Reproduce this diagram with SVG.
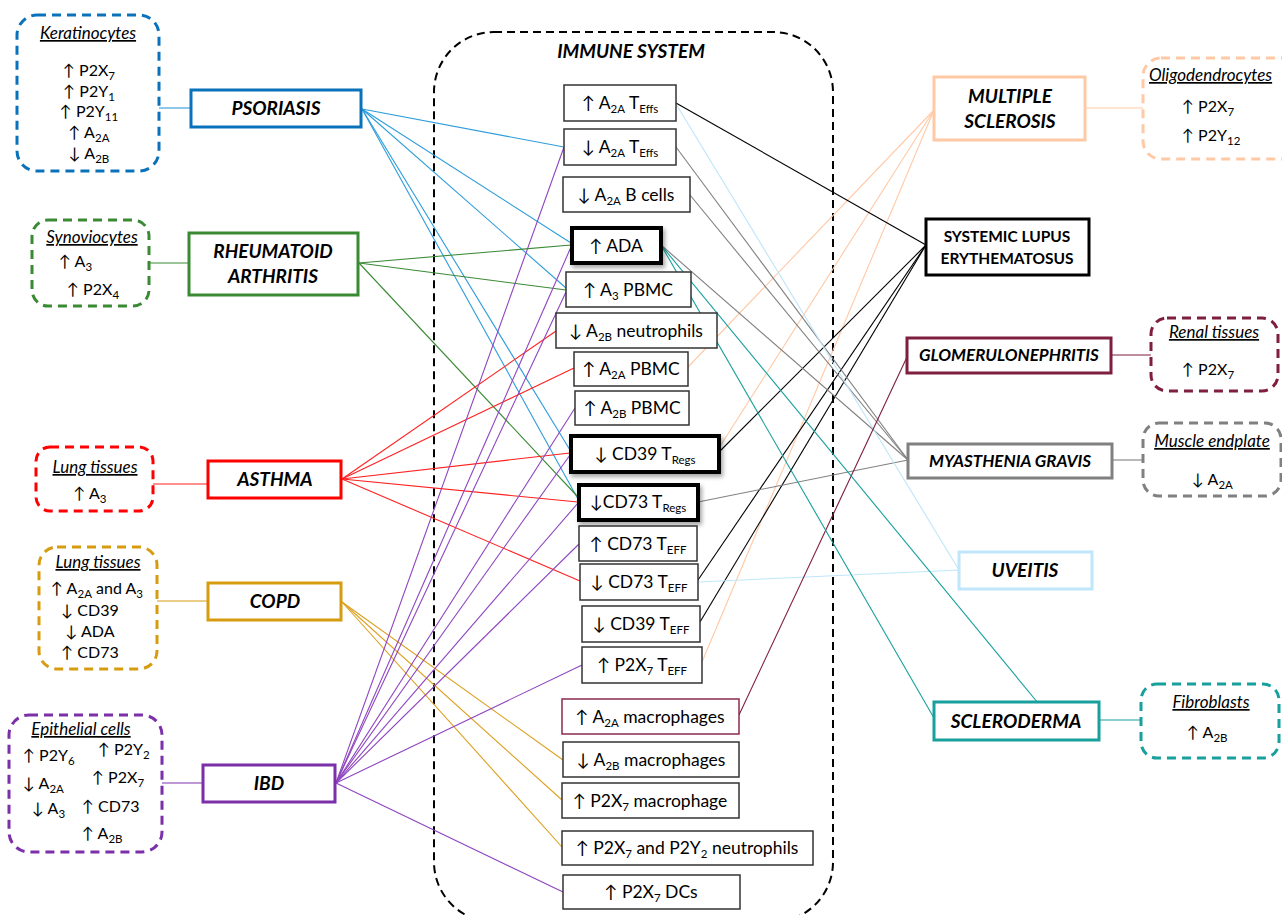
<svg xmlns="http://www.w3.org/2000/svg" width="1282" height="915" viewBox="0 0 1282 915">
<defs>
<filter id="sh" x="-20%" y="-20%" width="150%" height="160%">
<feDropShadow dx="2" dy="3" stdDeviation="2" flood-color="#000" flood-opacity="0.35"/>
</filter>
<style>
text{font-family:Lato,"Open Sans","DejaVu Sans",sans-serif;fill:#000}
.c{font-size:17.5px;text-anchor:middle}
.t{font-size:16px}
.ti{font-size:17px;font-style:italic;text-decoration:underline}
.d{font-size:19px;font-weight:bold;font-style:italic;text-anchor:middle}
.sb{font-size:11.5px}
.box{fill:#fff;stroke:#333;stroke-width:1.5}
.bold{fill:#fff;stroke:#000;stroke-width:4}
.dis{fill:#fff;stroke-width:3}
.tis{fill:#fff;stroke-width:3;stroke-dasharray:9 6}
.cn line{stroke-width:1.1;fill:none}
</style>
</defs>
<rect width="1282" height="915" fill="#fff"/>

<!-- Immune system container -->
<g id="immune-system">
<rect x="434" y="32" width="399" height="890" rx="60" fill="none" stroke="#000" stroke-width="2" stroke-dasharray="8 5"/>
<text x="631" y="58" style="font-size:19px;font-weight:bold;font-style:italic;text-anchor:middle">IMMUNE SYSTEM</text>
</g>

<!-- Connectors -->
<g id="connectors" class="cn">
<!-- tissue to disease -->
<line x1="159" y1="108" x2="191" y2="108" stroke="#2D9CDB"/>
<line x1="149" y1="263" x2="189" y2="263" stroke="#3A8A34"/>
<line x1="153" y1="484" x2="208" y2="484" stroke="#FF2020"/>
<line x1="157" y1="601" x2="208" y2="601" stroke="#D99B12"/>
<line x1="162" y1="783" x2="202" y2="783" stroke="#7E30B0"/>
<line x1="1085" y1="108" x2="1143" y2="108" stroke="#FFC9A6"/>
<line x1="1111" y1="355" x2="1151" y2="355" stroke="#7E1E40" stroke-width="1.6"/>
<line x1="1112" y1="460" x2="1143" y2="460" stroke="#808080"/>
<line x1="1099" y1="720" x2="1141" y2="720" stroke="#17A09C"/>
<!-- psoriasis -->
<g stroke="#2D9CDB">
<line x1="362" y1="109" x2="564" y2="147"/>
<line x1="362" y1="109" x2="571" y2="243"/>
<line x1="362" y1="109" x2="566" y2="288"/>
<line x1="362" y1="109" x2="570" y2="450"/>
<line x1="362" y1="109" x2="578" y2="499"/>
</g>
<!-- RA -->
<g stroke="#3A8A34">
<line x1="359" y1="263" x2="571" y2="245"/>
<line x1="359" y1="263" x2="566" y2="290"/>
<line x1="359" y1="263" x2="578" y2="497"/>
</g>
<!-- asthma -->
<g stroke="#FF2020">
<line x1="342" y1="479" x2="556" y2="331"/>
<line x1="342" y1="479" x2="574" y2="368"/>
<line x1="342" y1="479" x2="570" y2="453"/>
<line x1="342" y1="479" x2="578" y2="502"/>
<line x1="342" y1="479" x2="580" y2="581"/>
</g>
<!-- COPD -->
<g stroke="#DDA020">
<line x1="342" y1="602" x2="563" y2="760"/>
<line x1="342" y1="602" x2="562" y2="800"/>
<line x1="342" y1="602" x2="562" y2="847"/>
</g>
<!-- IBD -->
<g stroke="#8E44C0">
<line x1="336" y1="783" x2="564" y2="147"/>
<line x1="336" y1="783" x2="571" y2="247"/>
<line x1="336" y1="783" x2="566" y2="292"/>
<line x1="336" y1="783" x2="575" y2="408"/>
<line x1="336" y1="783" x2="570" y2="455"/>
<line x1="336" y1="783" x2="578" y2="503"/>
<line x1="336" y1="783" x2="579" y2="544"/>
<line x1="336" y1="783" x2="582" y2="665"/>
<line x1="336" y1="783" x2="563" y2="892"/>
</g>
<!-- multiple sclerosis -->
<g stroke="#FFC9A6">
<line x1="934" y1="110" x2="688" y2="367"/>
<line x1="934" y1="110" x2="719" y2="448"/>
<line x1="934" y1="110" x2="702" y2="662"/>
</g>
<!-- SLE -->
<g stroke="#000">
<line x1="926" y1="245" x2="676" y2="103"/>
<line x1="926" y1="245" x2="719" y2="452"/>
<line x1="926" y1="245" x2="698" y2="580"/>
<line x1="926" y1="245" x2="700" y2="622"/>
</g>
<!-- myasthenia gravis -->
<g stroke="#808080">
<line x1="908" y1="460" x2="676" y2="147"/>
<line x1="908" y1="460" x2="690" y2="195"/>
<line x1="908" y1="460" x2="661" y2="245"/>
<line x1="908" y1="460" x2="698" y2="502"/>
</g>
<!-- uveitis -->
<g stroke="#BFE6FA">
<line x1="959" y1="570" x2="676" y2="104"/>
<line x1="959" y1="570" x2="698" y2="582"/>
</g>
<!-- glomerulonephritis -->
<line x1="907" y1="357" x2="739" y2="715" stroke="#7E1E40"/>
<!-- scleroderma -->
<g stroke="#17A09C">
<line x1="661" y1="245" x2="1038" y2="703"/>
<line x1="661" y1="245" x2="934" y2="718"/>
</g>
</g>

<!-- Center immune nodes -->
<g id="n-a2a-teffs-up"><rect class="box" x="564" y="85" width="112" height="36"/>
<text class="c" x="620" y="109">↑ A<tspan class="sb" dy="4">2A</tspan><tspan dy="-4"> T</tspan><tspan class="sb" dy="4">Effs</tspan></text></g>
<g id="n-a2a-teffs-down"><rect class="box" x="564" y="129" width="112" height="36"/>
<text class="c" x="620" y="153">↓ A<tspan class="sb" dy="4">2A</tspan><tspan dy="-4"> T</tspan><tspan class="sb" dy="4">Effs</tspan></text></g>
<g id="n-a2a-bcells"><rect class="box" x="563" y="177" width="127" height="35"/>
<text class="c" x="626" y="201">↓ A<tspan class="sb" dy="4">2A</tspan><tspan dy="-4"> B cells</tspan></text></g>
<g id="n-ada"><rect class="bold" x="572" y="228" width="89" height="35" filter="url(#sh)"/>
<text class="c" x="616" y="252">↑ ADA</text></g>
<g id="n-a3-pbmc"><rect class="box" x="566" y="272" width="125" height="35"/>
<text class="c" x="628" y="296">↑ A<tspan class="sb" dy="4">3</tspan><tspan dy="-4"> PBMC</tspan></text></g>
<g id="n-a2b-neutro"><rect class="box" x="556" y="313" width="161" height="35"/>
<text class="c" x="636" y="337">↓ A<tspan class="sb" dy="4">2B</tspan><tspan dy="-4">  neutrophils</tspan></text></g>
<g id="n-a2a-pbmc"><rect class="box" x="574" y="352" width="114" height="34"/>
<text class="c" x="631" y="375">↑ A<tspan class="sb" dy="4">2A</tspan><tspan dy="-4"> PBMC</tspan></text></g>
<g id="n-a2b-pbmc"><rect class="box" x="575" y="391" width="114" height="34"/>
<text class="c" x="632" y="414">↑ A<tspan class="sb" dy="4">2B</tspan><tspan dy="-4"> PBMC</tspan></text></g>
<g id="n-cd39-tregs"><rect class="bold" x="571" y="436" width="148" height="36" filter="url(#sh)"/>
<text class="c" x="645" y="460">↓ CD39 T<tspan class="sb" dy="4">Regs</tspan></text></g>
<g id="n-cd73-tregs"><rect class="bold" x="579" y="485" width="119" height="35" filter="url(#sh)"/>
<text class="c" x="638" y="508">↓CD73 T<tspan class="sb" dy="4">Regs</tspan></text></g>
<g id="n-cd73-teff-up"><rect class="box" x="579" y="526" width="118" height="35"/>
<text class="c" x="638" y="550">↑ CD73 T<tspan class="sb" dy="4">EFF</tspan></text></g>
<g id="n-cd73-teff-down"><rect class="box" x="580" y="564" width="118" height="36"/>
<text class="c" x="639" y="588">↓ CD73 T<tspan class="sb" dy="4">EFF</tspan></text></g>
<g id="n-cd39-teff"><rect class="box" x="582" y="606" width="118" height="36"/>
<text class="c" x="641" y="630">↓ CD39 T<tspan class="sb" dy="4">EFF</tspan></text></g>
<g id="n-p2x7-teff"><rect class="box" x="582" y="647" width="120" height="36"/>
<text class="c" x="642" y="671">↑ P2X<tspan class="sb" dy="4">7</tspan><tspan dy="-4"> T</tspan><tspan class="sb" dy="4">EFF</tspan></text></g>
<g id="n-a2a-macro"><rect class="box" x="562" y="699" width="177" height="35" style="stroke:#8A2A50"/>
<text class="c" x="650" y="723">↑ A<tspan class="sb" dy="4">2A</tspan><tspan dy="-4"> macrophages</tspan></text></g>
<g id="n-a2b-macro"><rect class="box" x="563" y="742" width="176" height="35"/>
<text class="c" x="651" y="766">↓ A<tspan class="sb" dy="4">2B</tspan><tspan dy="-4"> macrophages</tspan></text></g>
<g id="n-p2x7-macro"><rect class="box" x="562" y="783" width="177" height="35"/>
<text class="c" x="650" y="807">↑ P2X<tspan class="sb" dy="4">7</tspan><tspan dy="-4"> macrophage</tspan></text></g>
<g id="n-p2x7-p2y2-neutro"><rect class="box" x="562" y="831" width="251" height="34"/>
<text class="c" x="687" y="854">↑ P2X<tspan class="sb" dy="4">7</tspan><tspan dy="-4"> and P2Y</tspan><tspan class="sb" dy="4">2</tspan><tspan dy="-4"> neutrophils</tspan></text></g>
<g id="n-p2x7-dcs"><rect class="box" x="563" y="875" width="177" height="34"/>
<text class="c" x="651" y="898">↑ P2X<tspan class="sb" dy="4">7</tspan><tspan dy="-4"> DCs</tspan></text></g>

<!-- Left diseases -->
<g id="psoriasis"><rect class="dis" x="191" y="90" width="170" height="37" stroke="#0A72BA"/>
<text class="d" x="276" y="115">PSORIASIS</text></g>
<g id="rheumatoid-arthritis"><rect class="dis" x="189" y="233" width="169" height="62" stroke="#3A8A34"/>
<text class="d" x="273" y="258">RHEUMATOID</text><text class="d" x="273" y="283">ARTHRITIS</text></g>
<g id="asthma"><rect class="dis" x="208" y="461" width="133" height="37" stroke="#FF0000"/>
<text class="d" x="275" y="486">ASTHMA</text></g>
<g id="copd"><rect class="dis" x="208" y="583" width="133" height="37" stroke="#D79B0F"/>
<text class="d" x="275" y="608">COPD</text></g>
<g id="ibd"><rect class="dis" x="203" y="765" width="132" height="37" stroke="#7B2FA8"/>
<text class="d" x="269" y="790">IBD</text></g>

<!-- Left tissues -->
<g id="keratinocytes"><rect class="tis" x="17" y="15" width="142" height="156" rx="20" stroke="#0A72BA"/>
<text class="ti" x="88" y="39" text-anchor="middle">Keratinocytes</text>
<text class="t" x="89" y="76" text-anchor="middle">↑ P2X<tspan class="sb" dy="4">7</tspan></text>
<text class="t" x="89" y="97" text-anchor="middle">↑ P2Y<tspan class="sb" dy="4">1</tspan></text>
<text class="t" x="89" y="117" text-anchor="middle">↑ P2Y<tspan class="sb" dy="4">11</tspan></text>
<text class="t" x="89" y="138" text-anchor="middle">↑ A<tspan class="sb" dy="4">2A</tspan></text>
<text class="t" x="89" y="159" text-anchor="middle">↓ A<tspan class="sb" dy="4">2B</tspan></text></g>
<g id="synoviocytes"><rect class="tis" x="32" y="220" width="117" height="86" rx="16" stroke="#3A8A34"/>
<text class="ti" x="92" y="243" text-anchor="middle">Synoviocytes</text>
<text class="t" x="59" y="267">↑ A<tspan class="sb" dy="4">3</tspan></text>
<text class="t" x="67" y="295">↑ P2X<tspan class="sb" dy="4">4</tspan></text></g>
<g id="lung-tissues-asthma"><rect class="tis" x="36" y="447" width="117" height="64" rx="14" stroke="#FF0000"/>
<text class="ti" x="95" y="473" text-anchor="middle">Lung tissues</text>
<text class="t" x="90" y="499" text-anchor="middle">↑ A<tspan class="sb" dy="4">3</tspan></text></g>
<g id="lung-tissues-copd"><rect class="tis" x="39" y="547" width="118" height="122" rx="18" stroke="#D79B0F"/>
<text class="ti" x="98" y="568" text-anchor="middle">Lung tissues</text>
<text class="t" x="97" y="594" text-anchor="middle">↑ A<tspan class="sb" dy="4">2A</tspan><tspan dy="-4"> and A</tspan><tspan class="sb" dy="4">3</tspan></text>
<text class="t" x="90" y="616" text-anchor="middle">↓ CD39</text>
<text class="t" x="90" y="637" text-anchor="middle">↓ ADA</text>
<text class="t" x="90" y="658" text-anchor="middle">↑ CD73</text></g>
<g id="epithelial-cells"><rect class="tis" x="9" y="715" width="153" height="137" rx="20" stroke="#7B2FA8"/>
<text class="ti" x="81" y="735" text-anchor="middle">Epithelial cells</text>
<text class="t" x="23" y="761">↑ P2Y<tspan class="sb" dy="4">6</tspan></text>
<text class="t" x="23" y="789">↓ A<tspan class="sb" dy="4">2A</tspan></text>
<text class="t" x="32" y="814">↓ A<tspan class="sb" dy="4">3</tspan></text>
<text class="t" x="98" y="755">↑ P2Y<tspan class="sb" dy="4">2</tspan></text>
<text class="t" x="92" y="783">↑ P2X<tspan class="sb" dy="4">7</tspan></text>
<text class="t" x="82" y="812">↑ CD73</text>
<text class="t" x="82" y="839">↑ A<tspan class="sb" dy="4">2B</tspan></text></g>

<!-- Right diseases -->
<g id="multiple-sclerosis"><rect class="dis" x="934" y="77" width="151" height="63" stroke="#FFC9A6"/>
<text class="d" x="1010" y="103">MULTIPLE</text><text class="d" x="1010" y="128">SCLEROSIS</text></g>
<g id="sle"><rect class="dis" x="926" y="219" width="163" height="56" stroke="#000"/>
<text x="1007" y="242" style="font-size:15.5px;font-weight:bold;text-anchor:middle">SYSTEMIC LUPUS</text>
<text x="1007" y="264" style="font-size:15.5px;font-weight:bold;text-anchor:middle">ERYTHEMATOSUS</text></g>
<g id="glomerulonephritis"><rect class="dis" x="907" y="338" width="204" height="35" stroke="#7E1E40"/>
<text class="d" x="1009" y="361" style="font-size:17px">GLOMERULONEPHRITIS</text></g>
<g id="myasthenia-gravis"><rect class="dis" x="908" y="444" width="204" height="34" stroke="#808080"/>
<text class="d" x="1010" y="467" style="font-size:17px">MYASTHENIA GRAVIS</text></g>
<g id="uveitis"><rect class="dis" x="959" y="552" width="133" height="37" stroke="#BFE6FA"/>
<text class="d" x="1025" y="577">UVEITIS</text></g>
<g id="scleroderma"><rect class="dis" x="934" y="702" width="165" height="38" stroke="#17A09C"/>
<text class="d" x="1016" y="728">SCLERODERMA</text></g>

<!-- Right tissues -->
<g id="oligodendrocytes"><rect class="tis" x="1143" y="58" width="160" height="101" rx="18" stroke="#FFC9A6"/>
<text class="ti" x="1149" y="81">Oligodendrocytes</text>
<text class="t" x="1182" y="112">↑ P2X<tspan class="sb" dy="4">7</tspan></text>
<text class="t" x="1182" y="141">↑ P2Y<tspan class="sb" dy="4">12</tspan></text></g>
<g id="renal-tissues"><rect class="tis" x="1151" y="318" width="127" height="73" rx="16" stroke="#7E1E40"/>
<text class="ti" x="1214" y="338" text-anchor="middle">Renal tissues</text>
<text class="t" x="1182" y="375">↑ P2X<tspan class="sb" dy="4">7</tspan></text></g>
<g id="muscle-endplate"><rect class="tis" x="1143" y="423" width="138" height="73" rx="16" stroke="#808080"/>
<text class="ti" x="1212" y="447" text-anchor="middle">Muscle endplate</text>
<text class="t" x="1192" y="485">↓ A<tspan class="sb" dy="4">2A</tspan></text></g>
<g id="fibroblasts"><rect class="tis" x="1141" y="684" width="138" height="74" rx="16" stroke="#17A09C"/>
<text class="ti" x="1211" y="708" text-anchor="middle">Fibroblasts</text>
<text class="t" x="1187" y="738">↑ A<tspan class="sb" dy="4">2B</tspan></text></g>
</svg>
